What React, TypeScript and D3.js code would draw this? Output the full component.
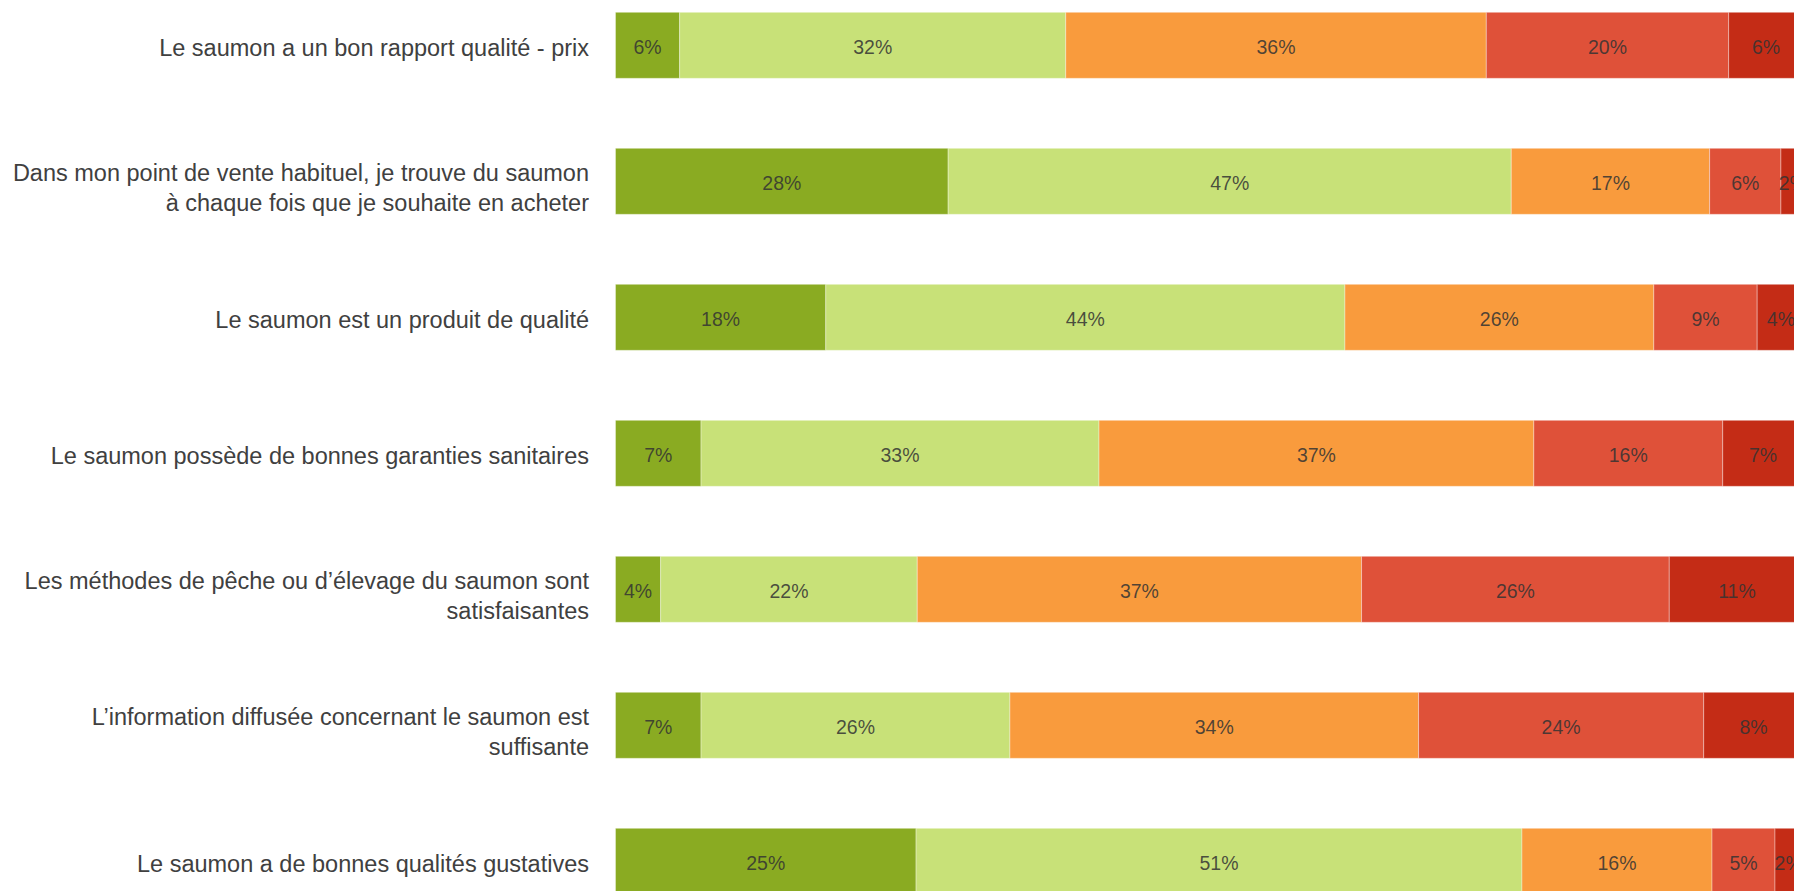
import React from "react";
import * as d3 from "d3";

const categories = [
  "Le saumon a un bon rapport qualité - prix",
  "Dans mon point de vente habituel, je trouve du saumon\nà chaque fois que je souhaite en acheter",
  "Le saumon est un produit de qualité",
  "Le saumon possède de bonnes garanties sanitaires",
  "Les méthodes de pêche ou d’élevage du saumon sont\nsatisfaisantes",
  "L’information diffusée concernant le saumon est\nsuffisante",
  "Le saumon a de bonnes qualités gustatives",
];

const seriesKeys = ["toutAFait", "plutot", "moyen", "plutotPas", "pasDuTout"];
const seriesColors = ["#8aab22", "#c8e178", "#f99b3d", "#df5139", "#c42c16"];

// segment shares (as drawn)
const toutAFait = [5.4, 28.0, 17.7, 7.2, 3.8, 7.2, 25.3];
const plutot = [32.5, 47.4, 43.7, 33.5, 21.6, 26.0, 51.0];
const moyen = [35.4, 16.7, 26.0, 36.6, 37.4, 34.4, 16.0];
const plutotPas = [20.4, 6.0, 8.7, 15.9, 25.9, 24.0, 5.3];
const pasDuTout = [6.3, 2.0, 4.0, 6.8, 11.4, 8.4, 2.3];

// printed labels
const toutAFaitLabels = [6, 28, 18, 7, 4, 7, 25];
const plutotLabels = [32, 47, 44, 33, 22, 26, 51];
const moyenLabels = [36, 17, 26, 37, 37, 34, 16];
const plutotPasLabels = [20, 6, 9, 16, 26, 24, 5];
const pasDuToutLabels = [6, 2, 4, 7, 11, 8, 2];

const seriesValues = [toutAFait, plutot, moyen, plutotPas, pasDuTout];
const seriesLabels = [toutAFaitLabels, plutotLabels, moyenLabels, plutotPasLabels, pasDuToutLabels];

const W = 1794;
const H = 891;

export default function App() {
  const rows = categories.map((c, i) => {
    const r: any = { cat: c };
    seriesKeys.forEach((k, j) => (r[k] = seriesValues[j][i]));
    return r;
  });
  const stacked = d3.stack().keys(seriesKeys)(rows);

  const x = d3.scaleLinear().domain([0, 100]).range([615.5, 615.5 + 1188]);
  const y = d3
    .scaleBand()
    .domain(categories)
    .range([12.3, 12.3 + 6 * 136 + 66])
    .paddingInner(70 / 136)
    .paddingOuter(0);

  const font = "'Liberation Sans', Arial, sans-serif";

  return (
    <svg
      width={W}
      height={H}
      style={{ position: "fixed", left: 0, top: 0, display: "block", background: "#fff" }}
    >
      {categories.map((c) => {
        const lines = c.split("\n");
        const cy = (y(c) as number) + y.bandwidth() / 2;
        const lh = 30;
        const startY = cy - ((lines.length - 1) * lh) / 2 + (lines.length > 1 ? 7 : 2.5);
        return (
          <text
            key={c}
            x={589}
            y={startY}
            textAnchor="end"
            dominantBaseline="central"
            fontFamily={font}
            fontSize={23.5}
            fill="#404040"
          >
            {lines.map((l, i) => (
              <tspan key={i} x={589} y={startY + i * lh}>
                {l}
              </tspan>
            ))}
          </text>
        );
      })}
      {stacked.map((s, j) => (
        <g key={s.key}>
          {s.map((d, i) => {
            const x0 = x(d[0]);
            const x1 = x(d[1]);
            const yy = y(categories[i]) as number;
            return (
              <g key={i}>
                <rect
                  x={x0}
                  y={yy}
                  width={x1 - x0}
                  height={y.bandwidth()}
                  fill={seriesColors[j]}
                  stroke="rgba(255,255,255,0.35)"
                  strokeWidth={1}
                />
                <text
                  x={(x0 + x1) / 2}
                  y={yy + y.bandwidth() / 2 + 2}
                  textAnchor="middle"
                  dominantBaseline="central"
                  fontFamily={font}
                  fontSize={19.5}
                  fill="#333"
                  fillOpacity={0.85}
                >
                  {seriesLabels[j][i]}%
                </text>
              </g>
            );
          })}
        </g>
      ))}
    </svg>
  );
}
